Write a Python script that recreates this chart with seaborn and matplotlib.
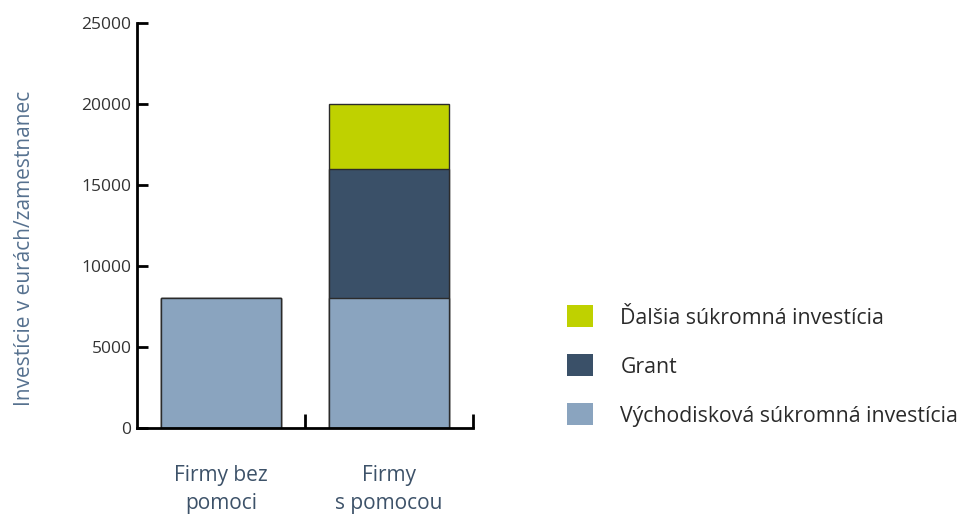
import matplotlib
matplotlib.use("Agg")
import matplotlib.pyplot as plt
import seaborn as sns
import pandas as pd
import numpy as np
from matplotlib.patches import Patch

categories = ["Firmy bez\npomoci", "Firmy\ns pomocou"]
baseline_invest = [8000, 8000]
grant = [0, 8000]
further_invest = [0, 4000]
series_names = ["Ďalšia súkromná investícia", "Grant", "Východisková súkromná investícia"]
yticks = [0, 5000, 10000, 15000, 20000, 25000]

col_light = "#8aa4bf"
col_dark = "#3a5068"
col_green = "#bfd100"

sns.set_theme(style="white")
plt.rcParams["font.family"] = ["Open Sans", "DejaVu Sans"]

fig = plt.figure(figsize=(9.65, 5.15), dpi=100)
ax = fig.add_axes([137/965, 1-428/515, (473-137)/965, (428-23)/515])

base = np.array(baseline_invest)
mid = base + np.array(grant)
top = mid + np.array(further_invest)

df = pd.DataFrame({"cat": categories, "top": top, "mid": mid, "base": base})
for col, color in [("top", col_green), ("mid", col_dark), ("base", col_light)]:
    sns.barplot(data=df, x="cat", y=col, color=color, saturation=1, width=0.72,
                edgecolor="#2b2b2b", linewidth=1.0, ax=ax, order=categories)

ax.set_xlim(-0.5, 1.5)
ax.set_ylim(0, 25000)
ax.set_yticks(yticks)
ax.set_yticklabels([str(v) for v in yticks])
ax.set_xlabel("")
ax.set_ylabel("Investície v eurách/zamestnanec", fontsize=15, color="#56718f")
ax.yaxis.set_label_coords(-(137 - 35) / 336, (428 - 248) / 405)

for s in ["top", "right"]:
    ax.spines[s].set_visible(False)
for s in ["left", "bottom"]:
    ax.spines[s].set_linewidth(2)
    ax.spines[s].set_color("black")

ax.tick_params(axis="y", direction="in", length=8, width=2, colors="black",
               labelsize=12.5, labelcolor="#333333", pad=4, left=True)
ax.tick_params(axis="x", which="major", length=0, labelsize=15, labelcolor="#3d5269", pad=27)
ax.set_xticks([0.5, 1.5], minor=True)
ax.tick_params(axis="x", which="minor", direction="in", length=10, width=2, colors="black", bottom=True)
for lab in ax.get_xticklabels():
    lab.set_linespacing(1.42)

handles = [Patch(facecolor=col_green, edgecolor="none"),
           Patch(facecolor=col_dark, edgecolor="none"),
           Patch(facecolor=col_light, edgecolor="none")]
leg = fig.legend(handles, series_names, loc="center left",
                 bbox_to_anchor=(548/965, 1-366/515), frameon=False,
                 fontsize=15.3, handlelength=1.2, handleheight=1.2,
                 handletextpad=1.3, labelspacing=1.22)
for t in leg.get_texts():
    t.set_color("#2a2a2a")

fig.savefig("out.png", dpi=100)
